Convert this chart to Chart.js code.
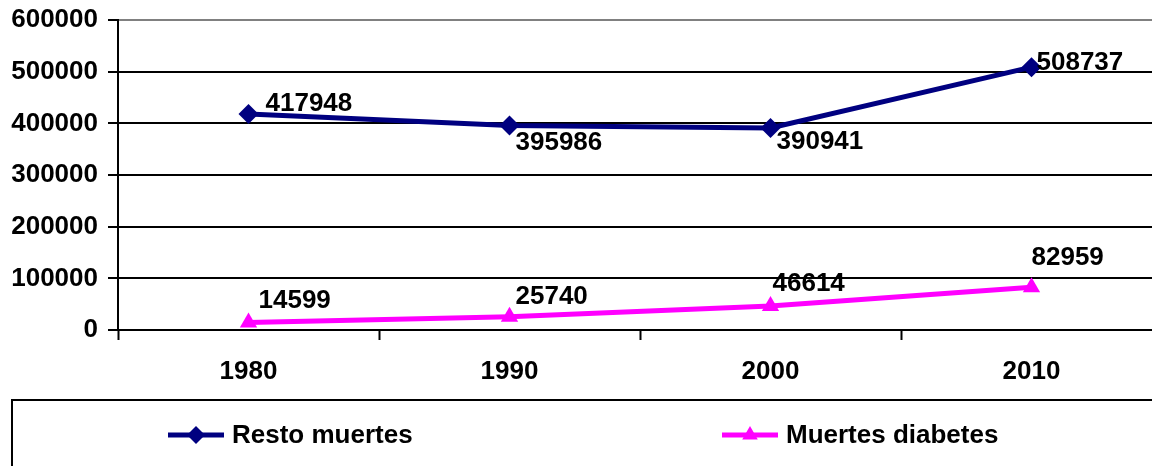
<!DOCTYPE html>
<html>
<head>
<meta charset="utf-8">
<script src="https://cdn.jsdelivr.net/npm/chart.js@4/dist/chart.umd.min.js"></script>
<style>
  html, body { margin: 0; padding: 0; background: #fff; }
  #wrap { width: 1152px; height: 466px; overflow: hidden; position: relative; }
</style>
</head>
<body>
<div id="wrap"><canvas id="myChart" width="1152" height="466"></canvas></div>
<script>
const years = ['1980', '1990', '2000', '2010'];
const restoMuertes = [417948, 395986, 390941, 508737];
const muertesDiabetes = [14599, 25740, 46614, 82959];
const yTicks = [0, 100000, 200000, 300000, 400000, 500000, 600000];

const FAMILY = '"Liberation Sans", Arial, sans-serif';
const FONT = 'bold 26px ' + FAMILY;

// where each value label sits relative to its point
const labelOffsets = [
  [[17, -10], [6, 17], [6, 14], [5, -4]],
  [[10, -22], [6, -20], [2, -22], [0, -29]]
];

// the plot area in the original runs a bit past the right edge
const PLOT_TOP = 20;
const PLOT_RIGHT = 1162;
const stretchArea = {
  id: 'stretchArea',
  afterLayout(chart) {
    const area = chart.chartArea;
    area.right = PLOT_RIGHT;
    area.width = area.right - area.left;
    area.top = PLOT_TOP;
    area.height = area.bottom - area.top;
    const x = chart.scales.x;
    x.right = PLOT_RIGHT;
    x.width = x.right - x.left;
    x.configure();
    const y = chart.scales.y;
    y.top = PLOT_TOP;
    y.height = y.bottom - y.top;
    y.configure();
  }
};

const valueLabels = {
  id: 'valueLabels',
  afterDatasetsDraw(chart) {
    const ctx = chart.ctx;
    ctx.save();
    ctx.font = FONT;
    ctx.fillStyle = '#000';
    ctx.textAlign = 'left';
    ctx.textBaseline = 'middle';
    chart.data.datasets.forEach((ds, i) => {
      chart.getDatasetMeta(i).data.forEach((pt, j) => {
        const off = labelOffsets[i][j];
        ctx.fillText(String(ds.data[j]), pt.x + off[0], pt.y + off[1]);
      });
    });
    ctx.restore();
  }
};

// legend box at the bottom, as in the original
const boxLegend = {
  id: 'boxLegend',
  afterDraw(chart) {
    const ctx = chart.ctx;
    ctx.save();
    ctx.strokeStyle = '#000';
    ctx.lineWidth = 2;
    ctx.strokeRect(12, 400, 1300, 120);
    const items = [{ x: 168, ds: chart.data.datasets[0] }, { x: 722, ds: chart.data.datasets[1] }];
    const y = 435;
    items.forEach(it => {
      ctx.strokeStyle = it.ds.borderColor;
      ctx.lineWidth = it.ds.borderWidth;
      ctx.beginPath();
      ctx.moveTo(it.x, y);
      ctx.lineTo(it.x + 56, y);
      ctx.stroke();
      ctx.fillStyle = it.ds.borderColor;
      ctx.strokeStyle = it.ds.borderColor;
      Chart.helpers.drawPoint(ctx, {
        pointStyle: it.ds.pointStyle,
        radius: 9,
        borderWidth: 0,
        rotation: 0
      }, it.x + 28, y);
      ctx.fillStyle = '#000';
      ctx.font = FONT;
      ctx.textBaseline = 'middle';
      ctx.fillText(it.ds.label, it.x + 64, y + 1);
    });
    ctx.restore();
  }
};

const ctx = document.getElementById('myChart').getContext('2d');
new Chart(ctx, {
  type: 'line',
  data: {
    labels: years,
    datasets: [
      {
        label: 'Resto muertes',
        data: restoMuertes,
        borderColor: '#000080',
        backgroundColor: '#000080',
        borderWidth: 5,
        pointStyle: 'rectRot',
        pointRadius: 10,
        pointBorderWidth: 0,
        tension: 0
      },
      {
        label: 'Muertes diabetes',
        data: muertesDiabetes,
        borderColor: '#ff00ff',
        backgroundColor: '#ff00ff',
        borderWidth: 5,
        pointStyle: 'triangle',
        pointRadius: 10,
        pointBorderWidth: 0,
        tension: 0
      }
    ]
  },
  options: {
    responsive: false,
    animation: false,
    layout: { padding: { top: 20, left: 0, right: 0, bottom: 86 } },
    plugins: { legend: { display: false }, tooltip: { enabled: false } },
    scales: {
      x: {
        offset: true,
        afterFit: s => { s.height = 50; },
        grid: {
          offset: true,
          drawOnChartArea: false,
          drawTicks: true,
          tickLength: 10,
          tickColor: '#000',
          tickWidth: 2
        },
        border: { display: true, color: '#000', width: 2 },
        ticks: {
          color: '#000',
          font: { family: FAMILY, size: 26, weight: 'bold' },
          padding: 16,
          maxRotation: 0
        }
      },
      y: {
        min: 0,
        max: 600000,
        afterFit: s => { s.width = 118; },
        afterBuildTicks: s => { s.ticks = yTicks.map(v => ({ value: v })); },
        grid: {
          color: c => (c.tick && c.tick.value === 600000 ? '#808080' : '#000'),
          lineWidth: 2,
          drawTicks: true,
          tickLength: 10,
          tickColor: '#000',
          tickWidth: 2
        },
        border: { display: true, color: '#000', width: 2 },
        ticks: {
          color: '#000',
          font: { family: FAMILY, size: 26, weight: 'bold' },
          padding: 10,
          callback: v => String(v)
        }
      }
    }
  },
  plugins: [stretchArea, valueLabels, boxLegend]
});
</script>
</body>
</html>
